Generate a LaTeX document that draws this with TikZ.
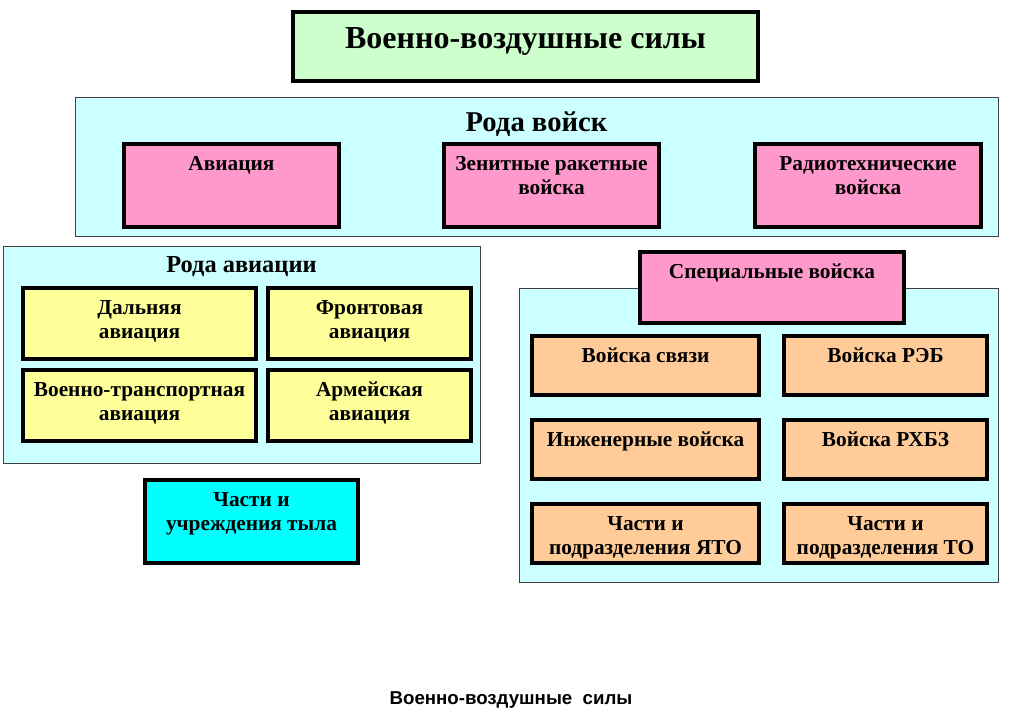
\documentclass[tikz,border=0pt]{standalone}
\usepackage{fontspec}
\setmainfont{Liberation Serif}
\setsansfont{Liberation Sans}
\usetikzlibrary{positioning, fit}

\definecolor{vvsgreen}{HTML}{CCFFCC}
\definecolor{panelcyan}{HTML}{CCFFFF}
\definecolor{rodpink}{HTML}{FF99CC}
\definecolor{aviayellow}{HTML}{FFFF99}
\definecolor{specpeach}{HTML}{FFCC99}
\definecolor{tylcyan}{HTML}{00FFFF}

\begin{document}
\begin{tikzpicture}[
    x=0.75pt, y=-0.75pt,
    panel/.style={rectangle, draw=black!75, line width=0.6pt, fill=panelcyan, inner sep=0pt},
    unit/.style={rectangle, draw=black, line width=3pt, inner sep=0pt},
    txt/.style={inner sep=0pt, align=center, font=\bfseries\fontsize{16}{18}\selectfont},
    head/.style={txt, font=\bfseries\fontsize{18.3}{21}\selectfont}
  ]
    \useasboundingbox (0,0) rectangle (1023,723);

    % top box
    \node[unit, fill=vvsgreen, fit={(293,12)(758,81)}] (vvs) {};
    \node[txt, font=\bfseries\fontsize{24}{28}\selectfont, below=13pt of vvs.north] (vvstxt) {Военно-воздушные силы};

    % rody voisk
    \node[panel, fit={(75,97)(998,236)}] (rody) {};
    \node[head, font=\bfseries\fontsize{21.5}{24}\selectfont, below=11pt of rody.north] (rodytxt) {Рода войск};
    \node[unit, fill=rodpink, fit={(124,144)(339,227)}] (avia) {};
    \node[txt, below=10.5pt of avia.north] (aviatxt) {Авиация};
    \node[unit, fill=rodpink, fit={(444,144)(659,227)}] (zrv) {};
    \node[txt, below=10.5pt of zrv.north] (zrvtxt) {Зенитные ракетные\\войска};
    \node[unit, fill=rodpink, fit={(755,144)(981,227)}] (rtv) {};
    \node[txt, below=10.5pt of rtv.north] (rtvtxt) {Радиотехнические\\войска};

    % rody aviacii
    \node[panel, fit={(3,246)(480,463)}] (rodavia) {};
    \node[head, below=8pt of rodavia.north] (rodaviatxt) {Рода авиации};
    \node[unit, fill=aviayellow, fit={(23,288)(256,359)}] (dal) {};
    \node[txt, below=10.5pt of dal.north] (daltxt) {Дальняя\\авиация};
    \node[unit, fill=aviayellow, fit={(268,288)(471,359)}] (front) {};
    \node[txt, below=10.5pt of front.north] (fronttxt) {Фронтовая\\авиация};
    \node[unit, fill=aviayellow, fit={(23,370)(256,441)}] (vta) {};
    \node[txt, below=10.5pt of vta.north] (vtatxt) {Военно-транспортная\\авиация};
    \node[unit, fill=aviayellow, fit={(268,370)(471,441)}] (arm) {};
    \node[txt, below=10.5pt of arm.north] (armtxt) {Армейская\\авиация};

    % tyl
    \node[unit, fill=tylcyan, fit={(145,480)(358,563)}] (tyl) {};
    \node[txt, below=10.5pt of tyl.north] (tyltxt) {Части и\\учреждения тыла};

    % specialnye voiska
    \node[panel, fit={(519,288)(998,582)}] (specpanel) {};
    \node[unit, fill=rodpink, fit={(640,252)(904,323)}] (spec) {};
    \node[txt, below=10pt of spec.north] (spectxt) {Специальные войска};
    \node[unit, fill=specpeach, fit={(532,336)(759,395)}] (svyaz) {};
    \node[txt, below=10.5pt of svyaz.north] (svyaztxt) {Войска связи};
    \node[unit, fill=specpeach, fit={(784,336)(987,395)}] (reb) {};
    \node[txt, below=10.5pt of reb.north] (rebtxt) {Войска РЭБ};
    \node[unit, fill=specpeach, fit={(532,420)(759,479)}] (ingen) {};
    \node[txt, below=10.5pt of ingen.north] (ingentxt) {Инженерные войска};
    \node[unit, fill=specpeach, fit={(784,420)(987,479)}] (rhbz) {};
    \node[txt, below=10.5pt of rhbz.north] (rhbztxt) {Войска РХБЗ};
    \node[unit, fill=specpeach, fit={(532,504)(759,563)}] (yato) {};
    \node[txt, below=10.5pt of yato.north] (yatotxt) {Части и\\подразделения ЯТО};
    \node[unit, fill=specpeach, fit={(784,504)(987,563)}] (to) {};
    \node[txt, below=10.5pt of to.north] (totxt) {Части и\\подразделения ТО};

    % caption
    \node[inner sep=0pt, font=\sffamily\bfseries\fontsize{14}{16}\selectfont] (caption) at (511,700) {Военно-воздушные~ силы};
  \end{tikzpicture}
\end{document}
